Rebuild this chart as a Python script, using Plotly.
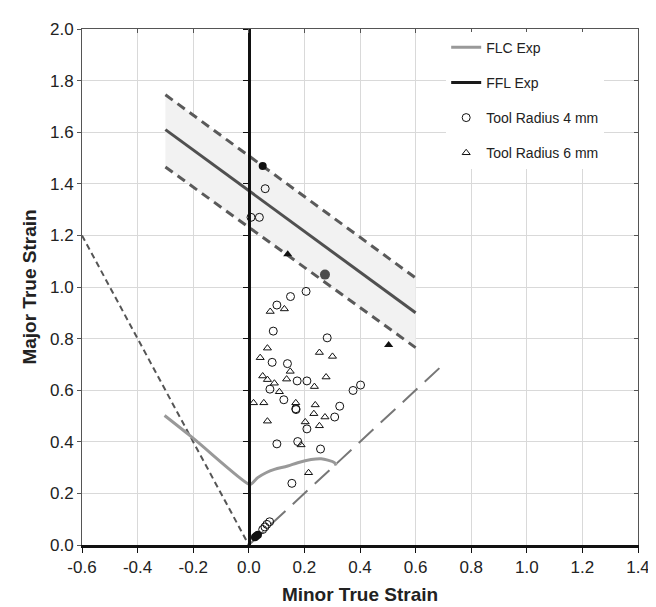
import plotly.graph_objects as go

# ---- data ----
ffl_x = [-0.3, 0.6]
ffl_y = [1.61, 0.90]
band_upper = [1.745, 1.035]
band_lower = [1.465, 0.765]

flc_x = [-0.303, -0.207, 0.0, 0.008, 0.032, 0.062, 0.092, 0.14, 0.176, 0.224, 0.26, 0.284, 0.308, 0.314]
flc_y = [0.502, 0.420, 0.236, 0.236, 0.261, 0.280, 0.293, 0.306, 0.319, 0.331, 0.334, 0.329, 0.319, 0.308]

ps_x = [-0.6, 0.0]          # short dashed line (pure shear)
ps_y = [1.2, 0.0]
eb_x = [0.0, 0.7]           # long dashed line (equibiaxial)
eb_y = [0.0, 0.7]

r4_x = [0.059, 0.008, 0.038, 0.206, 0.150, 0.101, 0.088, 0.282, 0.084, 0.139, 0.174, 0.209,
        0.076, 0.126, 0.170, 0.327, 0.375, 0.402, 0.309, 0.209, 0.101, 0.176, 0.258, 0.169,
        0.155, 0.075, 0.065, 0.058, 0.050]
r4_y = [1.381, 1.270, 1.270, 0.983, 0.963, 0.930, 0.829, 0.803, 0.708, 0.703, 0.636, 0.636,
        0.604, 0.563, 0.525, 0.538, 0.599, 0.620, 0.496, 0.450, 0.392, 0.401, 0.372, 0.528,
        0.239, 0.090, 0.080, 0.070, 0.060]

r6_x = [0.077, 0.128, 0.067, 0.041, 0.254, 0.301, 0.149, 0.050, 0.067, 0.092, 0.136, 0.278,
        0.236, 0.110, 0.017, 0.054, 0.169, 0.239, 0.234, 0.274, 0.067, 0.203, 0.254, 0.188, 0.215]
r6_y = [0.905, 0.915, 0.763, 0.726, 0.746, 0.731, 0.673, 0.655, 0.641, 0.627, 0.643, 0.651,
        0.614, 0.594, 0.551, 0.551, 0.551, 0.543, 0.509, 0.496, 0.480, 0.477, 0.462, 0.388, 0.280]

r4f_x = [0.05, 0.033, 0.027, 0.022]
r4f_y = [1.469, 0.040, 0.035, 0.030]
big_x = [0.274]
big_y = [1.048]
r6f_x = [0.14, 0.503]
r6f_y = [1.127, 0.775]

x_ticks = [-0.6, -0.4, -0.2, 0.0, 0.2, 0.4, 0.6, 0.8, 1.0, 1.2, 1.4]
y_ticks = [0.0, 0.2, 0.4, 0.6, 0.8, 1.0, 1.2, 1.4, 1.6, 1.8, 2.0]

FONT = "Liberation Sans, Arial, sans-serif"

fig = go.Figure()

# band fill
fig.add_trace(go.Scatter(x=ffl_x, y=band_lower, mode="lines", line=dict(width=0),
                         showlegend=False, hoverinfo="skip"))
fig.add_trace(go.Scatter(x=ffl_x, y=band_upper, mode="lines", line=dict(width=0),
                         fill="tonexty", fillcolor="#f2f2f2", showlegend=False, hoverinfo="skip"))
# band dashed lines
for yy in (band_upper, band_lower):
    fig.add_trace(go.Scatter(x=ffl_x, y=yy, mode="lines",
                             line=dict(color="#5a5a5a", width=3, dash="9px,6px"),
                             showlegend=False))
# FFL solid
fig.add_trace(go.Scatter(x=ffl_x, y=ffl_y, mode="lines", line=dict(color="#505050", width=3),
                         showlegend=False))
# pure shear and equibiaxial lines
fig.add_trace(go.Scatter(x=ps_x, y=ps_y, mode="lines",
                         line=dict(color="#555555", width=2, dash="6px,4px"), showlegend=False))
fig.add_trace(go.Scatter(x=eb_x, y=eb_y, mode="lines",
                         line=dict(color="#777777", width=2, dash="20px,10px"), showlegend=False))
# FLC
fig.add_trace(go.Scatter(x=flc_x, y=flc_y, mode="lines", line=dict(color="#999999", width=3),
                         name="FLC Exp", legendgroup="a", line_shape="spline"))
# FFL legend entry
fig.add_trace(go.Scatter(x=[None], y=[None], mode="lines", line=dict(color="#1a1a1a", width=3),
                         name="FFL Exp", legendgroup="b"))
# markers
fig.add_trace(go.Scatter(x=r4_x, y=r4_y, mode="markers", name="Tool Radius 4 mm", legendgroup="c",
                         marker=dict(symbol="circle-open", size=8, color="#111111",
                                     line=dict(width=1, color="#111111"))))
fig.add_trace(go.Scatter(x=r6_x, y=r6_y, mode="markers", name="Tool Radius 6 mm", legendgroup="d",
                         marker=dict(symbol="triangle-up-open", size=7, color="#111111",
                                     line=dict(width=1, color="#111111"))))
fig.add_trace(go.Scatter(x=r4f_x, y=r4f_y, mode="markers", showlegend=False,
                         marker=dict(symbol="circle", size=8, color="#111111")))
fig.add_trace(go.Scatter(x=big_x, y=big_y, mode="markers", showlegend=False,
                         marker=dict(symbol="circle", size=10, color="#4d4d4d")))
fig.add_trace(go.Scatter(x=r6f_x, y=r6f_y, mode="markers", showlegend=False,
                         marker=dict(symbol="triangle-up", size=8, color="#111111")))

fig.update_layout(
    width=656, height=607,
    margin=dict(l=74, r=26, t=12, b=70),
    plot_bgcolor="white", paper_bgcolor="white",
    font=dict(family=FONT, size=17, color="#222222"),
    showlegend=True,
    legend=dict(x=0.655, y=0.995, xanchor="left", yanchor="top", bgcolor="white",
                borderwidth=0, font=dict(size=14, color="#222222"), tracegroupgap=14,
                itemwidth=30),
    xaxis=dict(range=[-0.6, 1.4], tickvals=x_ticks, ticktext=[f"{v:.1f}" for v in x_ticks],
               showgrid=True, gridcolor="#d9d9d9", gridwidth=1, zeroline=False,
               showline=True, linecolor="#111111", linewidth=3,
               ticks="outside", ticklen=5, tickcolor="#111111", tickwidth=1,
               title=dict(text="<b>Minor True Strain</b>", font=dict(size=19), standoff=12)),
    yaxis=dict(range=[0, 2.0], tickvals=y_ticks, ticktext=[f"{v:.1f}" for v in y_ticks],
               showgrid=True, gridcolor="#d9d9d9", gridwidth=1, zeroline=False,
               showline=True, linecolor="#555555", linewidth=1,
               ticks="outside", ticklen=4, tickcolor="#555555",
               title=dict(text="<b>Major True Strain</b>", font=dict(size=19), standoff=8)),
    xaxis2=dict(range=[-0.6, 1.4], overlaying="x", side="top", anchor="y", tickvals=x_ticks,
                showticklabels=False, showgrid=False, zeroline=False, showline=True,
                linecolor="#555555", linewidth=1, ticks="inside", ticklen=4, tickcolor="#555555"),
    yaxis2=dict(range=[0, 2.0], overlaying="y", anchor="free", position=0.3, tickvals=y_ticks,
                showticklabels=False, showgrid=False, zeroline=False, showline=True,
                linecolor="#111111", linewidth=3, ticks="outside", ticklen=5, tickcolor="#111111"),
    yaxis3=dict(range=[0, 2.0], overlaying="y", side="right", anchor="x", tickvals=y_ticks,
                showticklabels=False, showgrid=False, zeroline=False, showline=True,
                linecolor="#555555", linewidth=1, ticks="inside", ticklen=4, tickcolor="#555555"),
)
# dummy traces to activate overlay axes
fig.add_trace(go.Scatter(x=[None], y=[None], xaxis="x2", yaxis="y", showlegend=False))
fig.add_trace(go.Scatter(x=[None], y=[None], xaxis="x", yaxis="y2", showlegend=False))
fig.add_trace(go.Scatter(x=[None], y=[None], xaxis="x", yaxis="y3", showlegend=False))

fig.write_html("out.html")
